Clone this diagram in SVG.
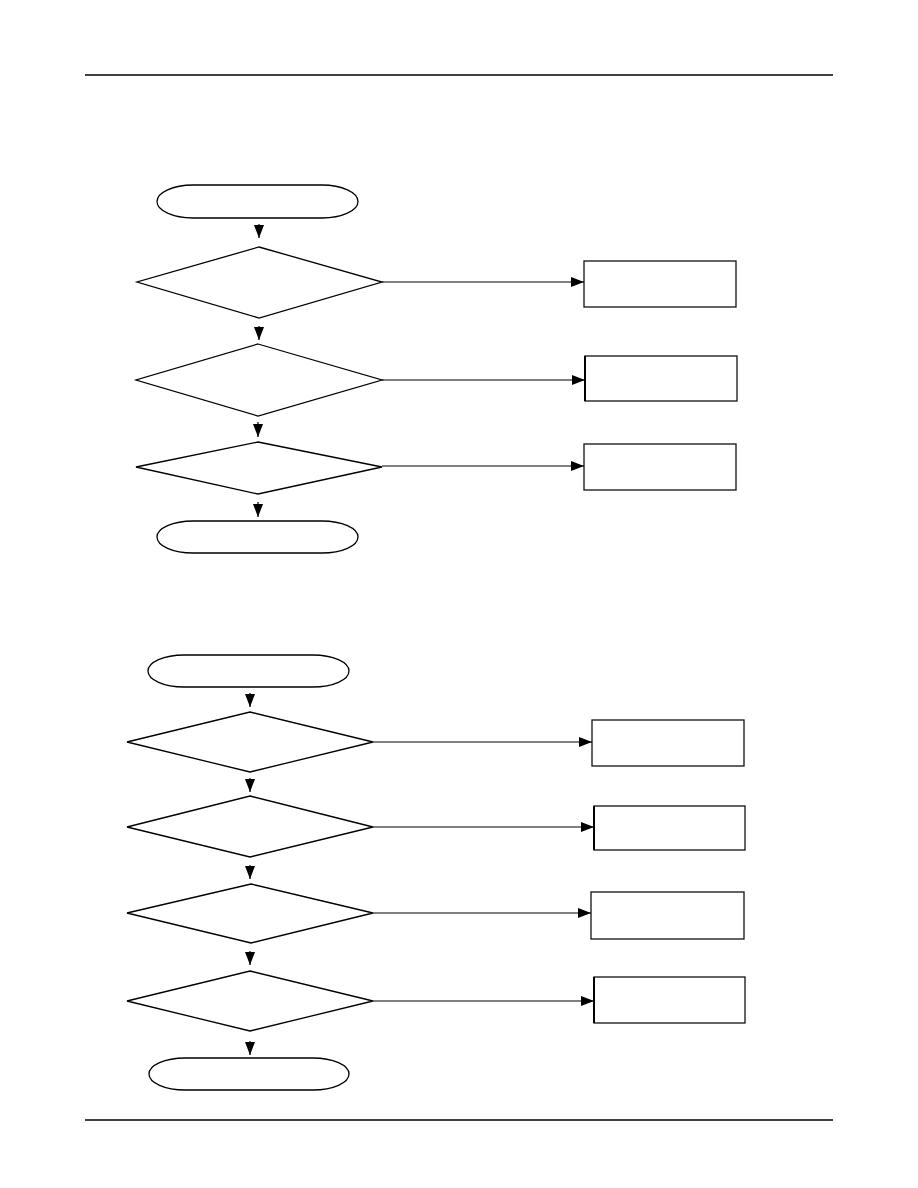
<svg xmlns="http://www.w3.org/2000/svg" width="918" height="1188" viewBox="0 0 918 1188">
<style>
.s{fill:#fff;stroke:#000;stroke-width:1.3}
.b{fill:#fff;stroke:#111;stroke-width:1.3}
.c{fill:none;stroke:#000;stroke-width:1.2;marker-end:url(#ah)}
.r{stroke:#000;stroke-width:1.5}
</style>
<defs>
<marker id="ah" markerUnits="userSpaceOnUse" markerWidth="14" markerHeight="10" refX="13" refY="5" orient="auto">
<path d="M0,0 L13,5 L0,10 Z" fill="#000"/>
</marker>
</defs>
<line class="r" x1="85" y1="75" x2="833" y2="75"/>
<line class="r" x1="85" y1="1120" x2="833" y2="1120"/>

<g id="t1"><path class="s" d="M193,185 H322 A36,16.5 0 0 1 322,218 H193 A36,16.5 0 0 1 193,185 Z"/></g>
<g id="d1"><polygon class="s" points="259,247 382,282 259,318 137,282"/></g>
<g id="d2"><polygon class="s" points="258,344 382,380 258,416 136,380"/></g>
<g id="d3"><polygon class="s" points="258,442 382,467 258,494 136,467"/></g>
<g id="t2"><path class="s" d="M193,521 H322 A36,16 0 0 1 322,553 H193 A36,16 0 0 1 193,521 Z"/></g>
<g id="b1"><rect class="b" x="584" y="261" width="152" height="46"/></g>
<g id="b2"><rect class="b" x="585" y="356" width="152" height="45"/><line x1="585" y1="356" x2="585" y2="401" stroke="#000" stroke-width="2"/></g>
<g id="b3"><rect class="b" x="584" y="444" width="152" height="46"/></g>

<g id="t3"><path class="s" d="M184,655 H313 A36,16 0 0 1 313,687 H184 A36,16 0 0 1 184,655 Z"/></g>
<g id="d4"><polygon class="s" points="250,712 373,742 250,772 127,742"/></g>
<g id="d5"><polygon class="s" points="250,796 373,827 250,857 127,827"/></g>
<g id="d6"><polygon class="s" points="251,884 373,913 251,943 127,913"/></g>
<g id="d7"><polygon class="s" points="250,971 373,1001 250,1031 127,1001"/></g>
<g id="t4"><path class="s" d="M185,1058 H313 A36,16 0 0 1 313,1090 H185 A36,16 0 0 1 185,1058 Z"/></g>
<g id="b4"><rect class="b" x="592" y="720" width="152" height="46"/></g>
<g id="b5"><rect class="b" x="594" y="806" width="151" height="44"/><line x1="594" y1="806" x2="594" y2="850" stroke="#000" stroke-width="2"/></g>
<g id="b6"><rect class="b" x="591" y="892" width="153" height="47"/></g>
<g id="b7"><rect class="b" x="594" y="977" width="151" height="46"/><line x1="594" y1="977" x2="594" y2="1023" stroke="#000" stroke-width="2"/></g>

<g id="connectors">
<line class="c" x1="259" y1="224" x2="259" y2="238"/>
<line class="c" x1="259" y1="326" x2="259" y2="340"/>
<line class="c" x1="258" y1="422" x2="258" y2="437"/>
<line class="c" x1="258" y1="502" x2="258" y2="517"/>
<line class="c" x1="382" y1="282" x2="584" y2="282"/>
<line class="c" x1="382" y1="380" x2="585" y2="380"/>
<line class="c" x1="382" y1="466" x2="584" y2="466"/>

<line class="c" x1="250" y1="693" x2="250" y2="707"/>
<line class="c" x1="250" y1="778" x2="250" y2="792"/>
<line class="c" x1="250" y1="865" x2="250" y2="879"/>
<line class="c" x1="250" y1="951" x2="250" y2="965"/>
<line class="c" x1="250" y1="1041" x2="250" y2="1055"/>
<line class="c" x1="373" y1="742" x2="592" y2="742"/>
<line class="c" x1="373" y1="827" x2="594" y2="827"/>
<line class="c" x1="373" y1="913" x2="591" y2="913"/>
<line class="c" x1="373" y1="1001" x2="594" y2="1001"/>
</g>
</svg>
